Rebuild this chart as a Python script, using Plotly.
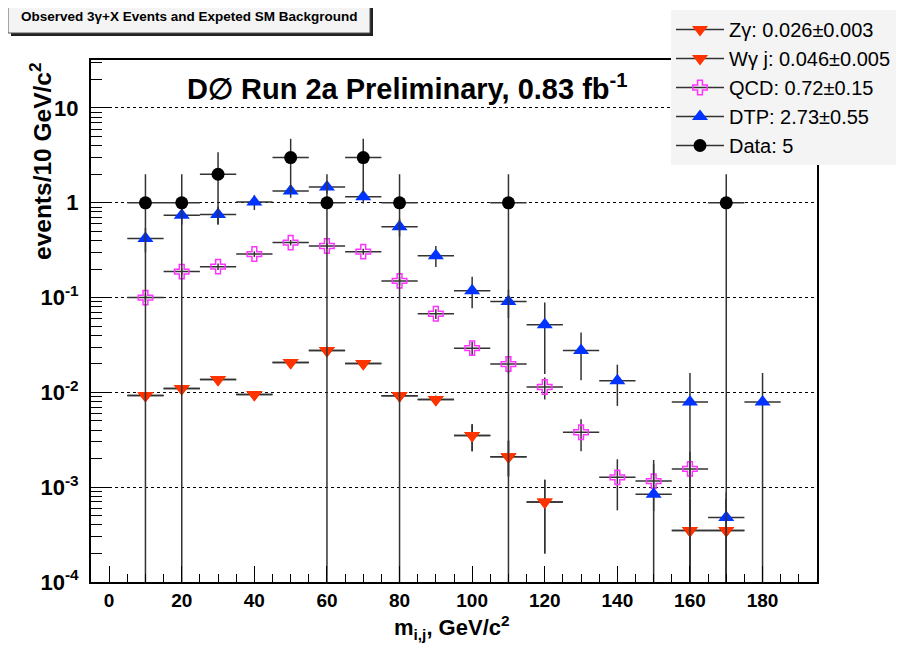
import plotly.graph_objects as go

# ---------------- data ----------------
bins_bkg = [10, 20, 30, 40, 50, 60, 70, 80, 90, 100, 110, 120, 130, 140, 150, 160, 170, 180]

# Z gamma and W gamma j (red down-triangles, drawn on top of each other)
red_x = [10, 20, 30, 40, 50, 60, 70, 80, 90, 100, 110, 120, 160, 170]
zg_y = [0.0093, 0.011, 0.0137, 0.0095, 0.0207, 0.0277, 0.0202, 0.0092, 0.0084, 0.0035, 0.0021, 0.0007, 0.00035, 0.00035]
wgj_y = [0.0093, 0.011, 0.0137, 0.0095, 0.0207, 0.0277, 0.0202, 0.0092, 0.0084, 0.0035, 0.0021, 0.0007, 0.00035, 0.00035]
red_err_up = [0.0008, 0.0009, 0.001, 0.0008, 0.0015, 0.002, 0.0015, 0.0008, 0.0008, 0.0011, 0.001, 0.0005, 0.0004, 0.0004]
red_err_dn = [0.0008, 0.0009, 0.001, 0.0008, 0.0015, 0.002, 0.0015, 0.0008, 0.0008, 0.0011, 0.0008, 0.0005, 0.00035, 0.00035]

# QCD (magenta open crosses)
qcd_x = [10, 20, 30, 40, 50, 60, 70, 80, 90, 100, 110, 120, 130, 140, 150, 160]
qcd_y = [0.1, 0.188, 0.212, 0.288, 0.38, 0.35, 0.305, 0.15, 0.0675, 0.0293, 0.0199, 0.0114, 0.0038, 0.00127, 0.00116, 0.00156]
qcd_err = [0.01, 0.015, 0.017, 0.02, 0.025, 0.025, 0.022, 0.015, 0.008, 0.005, 0.004, 0.003, 0.0014, 0.0007, 0.0006, 0.0008]

# DTP (blue triangles)
dtp_x = bins_bkg
dtp_y = [0.42, 0.74, 0.75, 1.02, 1.33, 1.47, 1.16, 0.56, 0.277, 0.118, 0.091, 0.0516, 0.0277, 0.0133, 0.00084, 0.0079, 0.00048, 0.0079]
dtp_err_up = [0.12, 0.15, 0.16, 0.18, 0.2, 0.22, 0.18, 0.12, 0.073, 0.048, 0.03, 0.037, 0.015, 0.0063, 0.0011, 0.0081, 0.0004, 0.0081]
dtp_err_dn = [0.12, 0.15, 0.16, 0.18, 0.2, 0.22, 0.18, 0.12, 0.067, 0.041, 0.03, 0.036, 0.0143, 0.0061, 0.00084, 0.0079, 0.00048, 0.0079]

# Data (black circles)
data_x = [10, 20, 30, 50, 60, 70, 80, 110, 170]
data_y = [1, 1, 2, 3, 1, 3, 1, 1, 1]
data_err_up = [1.0, 1.0, 1.41, 1.73, 1.0, 1.73, 1.0, 1.0, 1.0]
data_err_dn = [0.99999, 0.99999, 1.41, 1.73, 0.99999, 1.73, 0.99999, 0.99999, 0.99999]

bin_half_width = 5

legend_labels = ["Zγ: 0.026±0.003", "Wγ j: 0.046±0.005", "QCD: 0.72±0.15", "DTP: 2.73±0.55", "Data: 5"]

ytick_vals = [1e-4, 1e-3, 1e-2, 1e-1, 1, 10]
ytick_text = ["10<sup>-4</sup>", "10<sup>-3</sup>", "10<sup>-2</sup>", "10<sup>-1</sup>", "1", "10"]

# ---------------- styling ----------------
RED = "#ff3300"
BLUE = "#0033ff"
MAG = "#ff33ff"
BLACK = "#000000"
ERRC = "#333333"
FONT = "Liberation Sans, Arial, Helvetica, sans-serif"

fig = go.Figure()


def add_series(x, y, eup, edn, symbol, color, size, name, group, lw=0):
    fig.add_trace(go.Scatter(
        x=x, y=y, mode="markers", showlegend=False,
        marker=dict(symbol=symbol, color=color, size=size,
                    line=dict(width=lw, color=color)),
        error_x=dict(type="constant", value=bin_half_width, width=0,
                     color=ERRC, thickness=1.5),
        error_y=dict(type="data", array=eup, arrayminus=edn, symmetric=False,
                     width=0, color=ERRC, thickness=1.5),
        cliponaxis=True,
    ))
    # legend entry (line + marker, like the original legend)
    fig.add_trace(go.Scatter(
        x=[None], y=[None], mode="lines+markers", name=name, legendgroup=group,
        line=dict(color="#333333", width=1.5),
        marker=dict(symbol=symbol, color=color, size=size,
                    line=dict(width=lw, color=color)),
    ))


add_series(red_x, zg_y, red_err_up, red_err_dn, "triangle-down", RED, 14, legend_labels[0], "g1")
add_series(red_x, wgj_y, red_err_up, red_err_dn, "triangle-down", RED, 14, legend_labels[1], "g2")
add_series(qcd_x, qcd_y, qcd_err, qcd_err, "cross-open", MAG, 12, legend_labels[2], "g3", lw=1.5)
add_series(dtp_x, dtp_y, dtp_err_up, dtp_err_dn, "triangle-up", BLUE, 14, legend_labels[3], "g4")
add_series(data_x, data_y, data_err_up, data_err_dn, "circle", BLACK, 13, legend_labels[4], "g5")

# ---------------- layout ----------------
# page body has an 8px margin, so the figure is drawn 8px in from the window corner
OFF = 8
W, H = 904 - OFF, 650 - OFF
L, T = 91 - OFF, 60 - OFF
R = W - (817 - OFF)
B = H - (582 - OFF)
pw, ph = W - L - R, H - T - B


def px(xp):
    return (xp - OFF - L) / pw


def py(yp):
    return (H - B - (yp - OFF)) / ph


fig.update_layout(
    width=W, height=H,
    margin=dict(l=L, r=R, t=T, b=B, autoexpand=False),
    paper_bgcolor="white", plot_bgcolor="white",
    font=dict(family=FONT, color="black"),
    legend=dict(
        x=px(671), y=py(10), xanchor="left", yanchor="top",
        bgcolor="#f4f4f4", borderwidth=0,
        font=dict(size=20, family=FONT),
        itemsizing="trace", itemwidth=48, tracegroupgap=0,
    ),
    xaxis=dict(
        range=[-5, 195], showgrid=False, zeroline=False,
        tickmode="linear", tick0=0, dtick=20,
        ticks="inside", ticklen=16, tickwidth=1, tickcolor="black",
        minor=dict(dtick=5, tick0=0, ticks="inside", ticklen=8, tickcolor="black", showgrid=False),
        showline=True, linewidth=2, linecolor="black", mirror=True,
        tickfont=dict(size=19, family=FONT, weight="bold"),
    ),
    yaxis=dict(
        type="log", range=[-4, 1.506], zeroline=False,
        tickmode="array", tickvals=ytick_vals, ticktext=ytick_text,
        ticks="inside", ticklen=20, tickwidth=1, tickcolor="black",
        minor=dict(dtick="D1", ticks="inside", ticklen=11, tickcolor="black", showgrid=False),
        showgrid=True, gridcolor="black", gridwidth=1, griddash="dot",
        showline=True, linewidth=2, linecolor="black", mirror=True,
        tickfont=dict(size=22, family=FONT, weight="bold"),
        ticklabelstandoff=6,
    ),
    shapes=[
        dict(type="rect", xref="paper", yref="paper",
             x0=px(11), x1=px(373), y0=py(36), y1=py(6),
             fillcolor="#222222", line=dict(width=0), layer="above"),
        dict(type="rect", xref="paper", yref="paper",
             x0=px(8), x1=px(370), y0=py(33), y1=py(3),
             fillcolor="#f4f4f4", line=dict(width=1, color="#555555"), layer="above"),
    ],
    annotations=[
        dict(text="<b>Observed 3γ+X Events and Expeted SM Background</b>",
             xref="paper", yref="paper", x=px(189), y=py(17),
             xanchor="center", yanchor="middle", showarrow=False,
             font=dict(size=13.5, family=FONT)),
        dict(text="<b>D∅ Run 2a Preliminary, 0.83 fb<sup>-1</sup></b>",
             xref="paper", yref="paper", x=px(407), y=py(87),
             xanchor="center", yanchor="middle", showarrow=False,
             font=dict(size=29, family=FONT)),
        dict(text="<b>events/10 GeV/c<sup>2</sup></b>",
             xref="paper", yref="paper", x=px(40), y=py(161),
             xanchor="center", yanchor="middle", showarrow=False, textangle=-90,
             font=dict(size=24.5, family=FONT)),
        dict(text="<b>m<sub>i,j</sub>, GeV/c<sup>2</sup></b>",
             xref="paper", yref="paper", x=px(452), y=py(627),
             xanchor="center", yanchor="middle", showarrow=False,
             font=dict(size=22, family=FONT)),
    ],
)

fig.write_html("out.html")
